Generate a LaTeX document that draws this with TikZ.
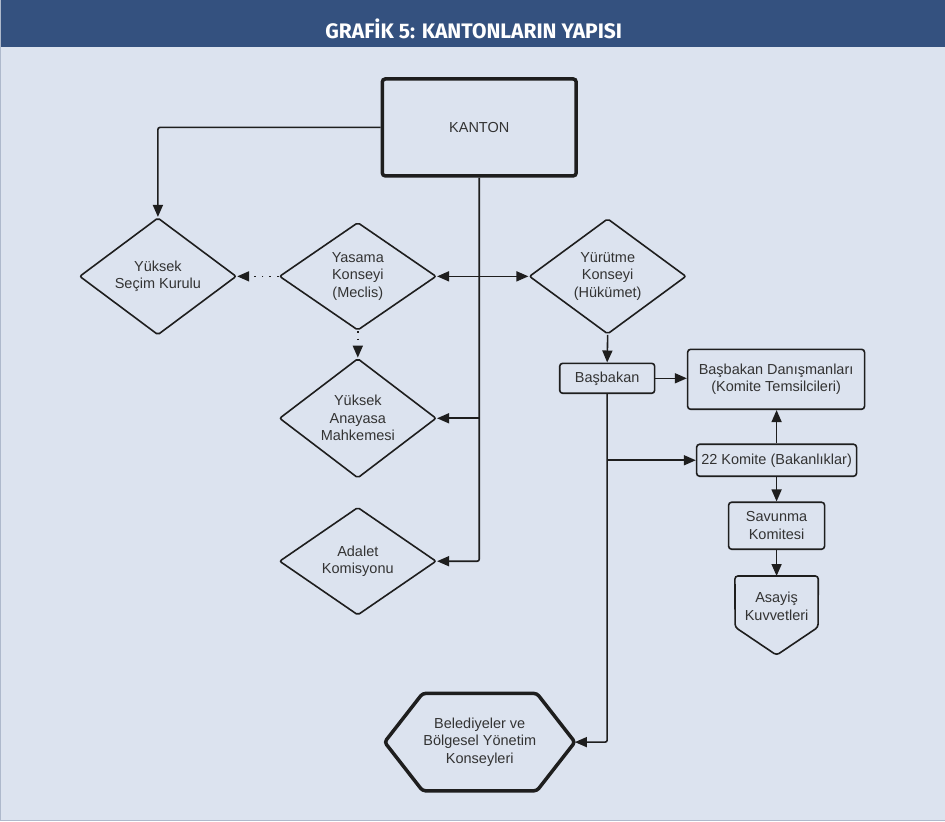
\documentclass[tikz,border=0pt]{standalone}
\usepackage{fontspec}
\setmainfont{Liberation Sans}
\newfontfamily\baslikfont{Fira Sans}
\usetikzlibrary{shapes.geometric,arrows.meta}
\definecolor{zemin}{HTML}{DCE3EF}
\definecolor{serit}{HTML}{34517F}
\definecolor{murek}{HTML}{1E1E1E}
\definecolor{yazi}{HTML}{333333}
\begin{document}
\begin{tikzpicture}[x=1pt,y=-1pt,
	every node/.style={font=\fontsize{14.5}{17.5}\selectfont,text=yazi,align=center},
	kutu/.style={draw=murek,line width=1.6pt,rounded corners=3pt,inner sep=3pt},
	karo/.style={diamond,draw=murek,line width=1.6pt,rounded corners=2pt,minimum width=157pt,minimum height=108pt,inner sep=0pt},
	kalin/.style={draw=murek,line width=3.5pt,rounded corners=3pt},
	ok/.style={draw=murek,line width=1.6pt,rounded corners=2pt,-{Triangle[length=12pt,width=10pt]}},
	noktali/.style={ok,dash pattern=on 1.6pt off 6pt}]
\fill[zemin] (0,0) rectangle (945,821);
\fill[serit] (0,0) rectangle (945,47);
\draw[serit!40,line width=1pt] (0.5,0) -- (0.5,820.5) -- (945,820.5);
\node[font=\baslikfont\bfseries\fontsize{21}{24}\selectfont,text=white] (baslik) at (474,28) {GRAFİK 5: KANTONLARIN YAPISI};
\node[kutu,kalin,minimum width=194pt,minimum height=97pt] (kanton) at (479.5,127) {KANTON};
\node[karo] (secim) at (158,276) {Yüksek\\Seçim Kurulu};
\node[karo] (yasama) at (358,276) {Yasama\\Konseyi\\(Meclis)};
\node[karo] (yurutme) at (608,276) {Yürütme\\Konseyi\\(Hükümet)};
\node[karo] (anayasa) at (358,418) {Yüksek\\Anayasa\\Mahkemesi};
\node[karo] (adalet) at (358,561) {Adalet\\Komisyonu};
\node[kutu,minimum width=95pt,minimum height=30pt] (basbakan) at (607.5,378) {Başbakan};
\node[kutu,minimum width=177pt,minimum height=60pt] (danisman) at (776.5,379) {Başbakan Danışmanları\\(Komite Temsilcileri)};
\node[kutu,minimum width=160pt,minimum height=32pt] (komite) at (777,460) {22 Komite (Bakanlıklar)};
\node[kutu,minimum width=96pt,minimum height=47pt] (savunma) at (777,525.5) {Savunma\\Komitesi};
\node[minimum width=83pt,minimum height=60pt,inner sep=0pt] (asayis) at (777,606) {Asayiş\\Kuvvetleri};
\draw[murek,line width=1.6pt,rounded corners=3pt] (asayis.north west) -- (asayis.north east) -- (818.5,627) -- (777,655) -- (735.5,627) -- cycle;
\node[minimum width=190pt,minimum height=97pt,inner sep=0pt] (belediye) at (480,742) {Belediyeler ve\\Bölgesel Yönetim\\Konseyleri};
\draw[kalin] (belediye.west) -- ([xshift=38pt]belediye.north west) -- ([xshift=-38pt]belediye.north east)
	-- (belediye.east) -- ([xshift=-38pt]belediye.south east) -- ([xshift=38pt]belediye.south west) -- cycle;
\draw[ok] (kanton.west) -| (secim.north);
\draw[ok] (kanton.south) |- (adalet.east);
\draw[ok] (kanton.south |- yasama.east) -- (yasama.east);
\draw[ok] (kanton.south |- yurutme.west) -- (yurutme.west);
\draw[ok] (kanton.south |- anayasa.east) -- (anayasa.east);
\draw[noktali] (yasama.west) -- (secim.east);
\draw[noktali] (yasama.south) -- (anayasa.north);
\draw[ok] (yurutme.south) -- (basbakan.north);
\draw[ok] (basbakan.east) -- (danisman.west |- basbakan.east);
\draw[ok] (basbakan.south) |- (belediye.east);
\draw[ok] (basbakan.south |- komite.west) -- (komite.west);
\draw[ok] (komite.north) -- (komite.north |- danisman.south);
\draw[ok] (komite.south) -- (savunma.north);
\draw[ok] (savunma.south) -- (asayis.north);
\end{tikzpicture}
\end{document}
